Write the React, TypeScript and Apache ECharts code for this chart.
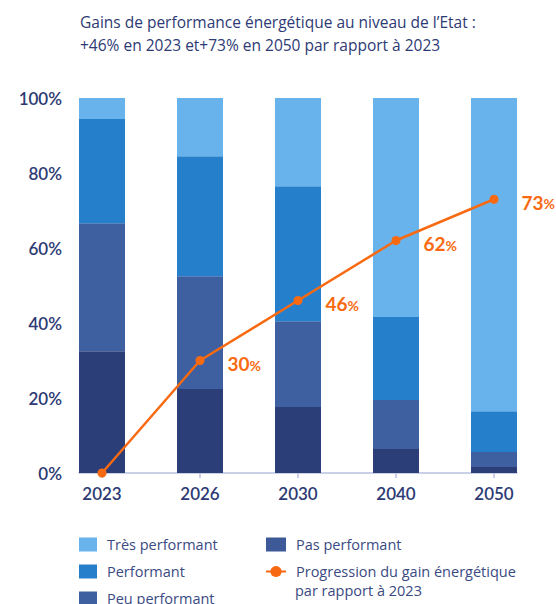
import React, { useEffect, useRef } from "react";
import * as echarts from "echarts";

const years = ["2023", "2026", "2030", "2040", "2050"];
const pasPerformant = [32.5, 22.4, 17.6, 6.4, 1.6];
const peuPerformant = [34.1, 30.1, 22.9, 13.1, 4.0];
const performant = [27.8, 32.0, 36.0, 22.1, 10.9];
const tresPerformant = [5.6, 15.5, 23.5, 58.4, 83.5];
const progression = [0, 30, 46, 62, 73];

const FONT = "Lato";
const TFONT = "Open Sans";
const NAVY = "#2d3a74";
const LEG = "#3a4a82";
const ORANGE = "#f86a12";

export default function App() {
  const ref = useRef<HTMLDivElement>(null);
  useEffect(() => {
    if (!ref.current) return;
    const chart = echarts.init(ref.current, null, { renderer: "svg" });
    const bar = (name: string, data: number[], color: string) => ({
      name,
      type: "bar",
      stack: "total",
      barWidth: 46,
      xAxisIndex: 0,
      yAxisIndex: 0,
      data,
      itemStyle: { color },
      emphasis: { disabled: true },
    });
    const legText = { fontFamily: TFONT, fontSize: 14.5, color: LEG, padding: [0, 0, 0, 5] };
    chart.setOption({
      animation: false,
      textStyle: { fontFamily: FONT },
      title: {
        text: "Gains de performance énergétique au niveau de l’Etat :\n+46% en 2023 et+73% en 2050 par rapport à 2023",
        left: 75,
        top: 5,
        textStyle: { fontFamily: TFONT, fontSize: 15.5, fontWeight: 500, color: NAVY, lineHeight: 23 },
      },
      grid: [
        { left: 53, right: 13, top: 98, bottom: 131, containLabel: false },
        { left: 79, right: 39, top: 98, bottom: 131, containLabel: false },
      ],
      xAxis: [
        {
          type: "category",
          gridIndex: 0,
          data: years,
          boundaryGap: true,
          axisLine: { show: false },
          axisTick: { show: true, alignWithLabel: true, length: 5, lineStyle: { color: "#b8c1dc", width: 1.5 } },
          axisLabel: { fontFamily: FONT, fontSize: 17, fontWeight: 600, color: NAVY, margin: 12 },
        },
        {
          type: "value",
          gridIndex: 1,
          min: 0,
          max: 1,
          splitLine: { show: false },
          axisLine: { show: true, lineStyle: { color: "#b8c1dc", width: 1.5 } },
          axisTick: { show: false },
          axisLabel: { show: false },
        },
      ],
      yAxis: [
        {
          type: "value",
          gridIndex: 0,
          min: 0,
          max: 100,
          interval: 20,
          show: false,
        },
        {
          type: "value",
          gridIndex: 1,
          min: 0,
          max: 100,
          interval: 20,
          splitLine: { show: false },
          axisLine: { show: false },
          axisTick: { show: false },
          axisLabel: { formatter: "{value}%", fontFamily: FONT, fontSize: 17, fontWeight: 600, color: NAVY, margin: 17 },
        },
      ],
      legend: [
        {
          orient: "vertical",
          left: 79,
          top: 537,
          height: 120,
          padding: 0,
          itemWidth: 18,
          itemHeight: 14,
          itemGap: 12,
          icon: "rect",
          data: ["Très performant", "Performant", "Peu performant"],
          textStyle: legText,
          selectedMode: false,
        },
        {
          orient: "vertical",
          left: 265,
          top: 537,
          height: 120,
          padding: 0,
          itemWidth: 20,
          itemHeight: 14,
          itemGap: 12,
          data: [
            { name: "Pas performant", icon: "rect", itemStyle: { color: "#3d5997" } },
            { name: "Progression du gain énergétique" },
          ],
          textStyle: legText,
          selectedMode: false,
        },
      ],
      graphic: [
        {
          type: "text",
          left: 295,
          top: 583,
          style: { text: "par rapport à 2023", fontFamily: TFONT, fontSize: 14.5, fill: LEG },
        },
      ],
      series: [
        bar("Pas performant", pasPerformant, "#2c3e78"),
        bar("Peu performant", peuPerformant, "#3e5fa0"),
        bar("Performant", performant, "#267fcb"),
        bar("Très performant", tresPerformant, "#69b3ec"),
        {
          name: "Progression du gain énergétique",
          type: "line",
          xAxisIndex: 0,
          yAxisIndex: 0,
          data: progression,
          symbol: "circle",
          symbolSize: 9,
          lineStyle: { color: ORANGE, width: 2.5 },
          itemStyle: { color: ORANGE },
          emphasis: { disabled: true },
          z: 5,
          label: {
            show: true,
            position: "right",
            distance: 23,
            offset: [0, 3],
            formatter: (p: any) => (p.value === 0 ? "" : `{n|${p.value}}{p|%}`),
            rich: {
              n: { fontFamily: FONT, fontSize: 19, fontWeight: 700, color: ORANGE },
              p: { fontFamily: FONT, fontSize: 14, fontWeight: 700, color: ORANGE, padding: [3, 0, 0, 0] },
            },
          },
        },
      ],
    });
    return () => chart.dispose();
  }, []);
  return <div ref={ref} style={{ width: 556, height: 604, position: "absolute", left: 0, top: 0 }} />;
}
